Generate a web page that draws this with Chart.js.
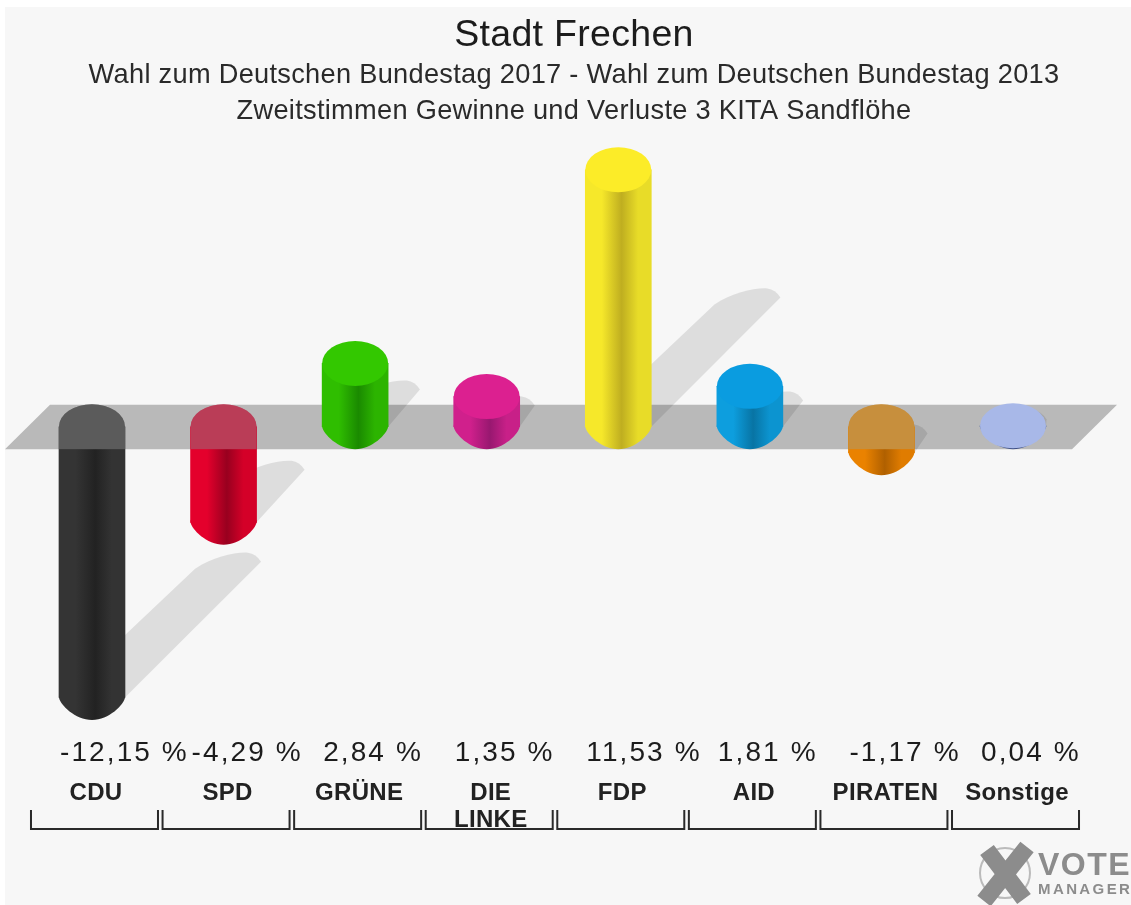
<!DOCTYPE html>
<html>
<head>
<meta charset="utf-8">
<title>Stadt Frechen</title>
<script src="https://cdn.jsdelivr.net/npm/chart.js@4"></script>
<style>
  html, body { margin: 0; padding: 0; background: #fff; overflow: hidden; }
  #wrap { width: 1131px; height: 905px; }
</style>
</head>
<body>
<div id="wrap"><canvas id="chart"></canvas></div>
<script>
const parties = ["CDU", "SPD", "GRÜNE", ["DIE", "LINKE"], "FDP", "AID", "PIRATEN", "Sonstige"];
const changes = [-12.15, -4.29, 2.84, 1.35, 11.53, 1.81, -1.17, 0.04];

const titleText = "Stadt Frechen";
const subtitleLines = [
  "Wahl zum Deutschen Bundestag 2017 - Wahl zum Deutschen Bundestag 2013",
  "Zweitstimmen Gewinne und Verluste 3 KITA Sandflöhe",
];

// left edge, dark middle, right edge, top of the cylinder
const barColors = [
  ["#343434", "#222222", "#333333", "#303030"],
  ["#e4002c", "#98001f", "#d40028", "#c4002a"],
  ["#2fbe00", "#1a8a00", "#2cb400", "#33c800"],
  ["#d0208c", "#981870", "#c82088", "#dc2090"],
  ["#f6e82a", "#bfae20", "#e8dc28", "#fcec28"],
  ["#0d9ede", "#0874a4", "#0c94d0", "#0a9ce0"],
  ["#ea8200", "#b06000", "#e07c00", "#d88000"],
  ["#56689c", "#3a4a80", "#56689c", "#a8b8e8"],
];

const FONT = '"Liberation Sans", Arial, sans-serif';
const RX = 33;
const RY = 22.5;

const bodyGradient = (chart, i) => {
  const cx = chart.scales.x.getPixelForValue(i);
  const [a, b, c] = barColors[i];
  if (!Number.isFinite(cx)) return a; // scale has no size yet on the first pass
  const g = chart.ctx.createLinearGradient(cx - RX, 0, cx + RX, 0);
  g.addColorStop(0, a);
  g.addColorStop(0.25, a);
  g.addColorStop(0.55, b);
  g.addColorStop(0.8, c);
  g.addColorStop(1, c);
  return g;
};

// background, grey floor band and the slanted shadows
const floorPlugin = {
  id: "floor",
  beforeDraw(chart) {
    const { ctx, width, height } = chart;
    ctx.save();
    ctx.fillStyle = "#ffffff";
    ctx.fillRect(0, 0, width, height);
    ctx.fillStyle = "#f7f7f7";
    ctx.fillRect(5, 7, width - 5, height - 7);
    ctx.restore();
    ctx.letterSpacing = "0.3px"; // title and subtitle
  },
  beforeDatasetsDraw(chart) {
    const { ctx, scales } = chart;
    const y0 = scales.y.getPixelForValue(0);
    const first = scales.x.getPixelForValue(0);
    const last = scales.x.getPixelForValue(changes.length - 1);

    ctx.save();
    ctx.fillStyle = "#b9b9b9";
    ctx.beginPath();
    ctx.moveTo(first - 42, y0 - 22);
    ctx.lineTo(last + 104, y0 - 22);
    ctx.lineTo(last + 59, y0 + 22.5);
    ctx.lineTo(first - 87, y0 + 22.5);
    ctx.closePath();
    ctx.fill();

    changes.forEach((v, i) => {
      const cx = scales.x.getPixelForValue(i);
      const by = scales.y.getPixelForValue(Math.min(v, 0));
      const tx = cx + Math.abs(v) * 11.2;
      const ty = by - Math.abs(v) * 10.6;
      ctx.beginPath();
      ctx.moveTo(cx - RX, by);
      ctx.lineTo(tx - RX, ty);
      ctx.bezierCurveTo(tx - 15, ty - 12, tx + 8, ty - 17, tx + 20, ty - 16);
      ctx.quadraticCurveTo(tx + 28, ty - 15, tx + RX, ty - 7);
      ctx.lineTo(cx + RX, by);
      ctx.closePath();
      ctx.fillStyle = "rgba(0, 0, 0, 0.1)";
      ctx.fill();
    });
    ctx.restore();
  },
  afterDatasetsDraw(chart) {
    const { ctx, scales } = chart;
    const y0 = scales.y.getPixelForValue(0);

    ctx.save();
    changes.forEach((v, i) => {
      const cx = scales.x.getPixelForValue(i);
      const yv = scales.y.getPixelForValue(v);
      const low = Math.max(yv, y0);
      const high = Math.min(yv, y0);

      // tapered lower end, starts a bit inside the bar so no seam shows
      ctx.beginPath();
      ctx.moveTo(cx - RX, low - 2);
      ctx.lineTo(cx - RX, low);
      ctx.bezierCurveTo(cx - RX + 1, low + 7, cx - 17, low + RY, cx, low + RY);
      ctx.bezierCurveTo(cx + 17, low + RY, cx + RX - 1, low + 7, cx + RX, low);
      ctx.lineTo(cx + RX, low - 2);
      ctx.closePath();
      ctx.fillStyle = bodyGradient(chart, i);
      ctx.fill();

      if (v < 0) {
        // the band lies over the bars that go below zero
        ctx.save();
        ctx.beginPath();
        ctx.rect(cx - RX - 1, y0 - 23, RX * 2 + 2, 45.5);
        ctx.clip();
        ctx.beginPath();
        ctx.ellipse(cx, y0, RX, RY, 0, Math.PI, Math.PI * 2);
        ctx.lineTo(cx + RX, y0 + 23);
        ctx.lineTo(cx - RX, y0 + 23);
        ctx.closePath();
        ctx.fillStyle = barColors[i][3];
        ctx.fill();
        ctx.fillStyle = "rgba(168, 168, 168, 0.36)";
        ctx.fill();
        ctx.restore();
      } else {
        ctx.beginPath();
        ctx.ellipse(cx, high, RX, RY, 0, 0, Math.PI * 2);
        ctx.fillStyle = barColors[i][3];
        ctx.fill();
      }
    });
    ctx.restore();
    ctx.letterSpacing = "2px"; // party names, the x axis draws after this
  },
  afterDraw(chart) {
    const { ctx, scales } = chart;

    ctx.save();
    // value labels
    ctx.font = "28px " + FONT;
    ctx.letterSpacing = "2.1px";
    ctx.fillStyle = "#1c1c1c";
    ctx.textAlign = "left";
    ctx.textBaseline = "alphabetic";
    changes.forEach((v, i) => {
      const label = v.toFixed(2).replace(".", ",") + " %";
      ctx.fillText(label, scales.x.getPixelForValue(i) - 32, 761);
    });

    // brackets under the party names
    ctx.strokeStyle = "#2a2a2a";
    ctx.lineWidth = 2;
    changes.forEach((v, i) => {
      const cx = scales.x.getPixelForValue(i);
      ctx.beginPath();
      ctx.moveTo(cx - 61, 810);
      ctx.lineTo(cx - 61, 829);
      ctx.lineTo(cx + 66, 829);
      ctx.lineTo(cx + 66, 810);
      ctx.stroke();
    });

    // VoteManager logo
    ctx.strokeStyle = "#bbbbbb";
    ctx.lineWidth = 2;
    ctx.beginPath();
    ctx.arc(1005, 873, 25, 0, Math.PI * 2);
    ctx.stroke();
    ctx.strokeStyle = "#8c8c8c";
    ctx.lineWidth = 17;
    ctx.beginPath();
    ctx.moveTo(987, 850);
    ctx.lineTo(1024, 899);
    ctx.moveTo(1027, 847);
    ctx.lineTo(984, 901);
    ctx.stroke();
    ctx.fillStyle = "#8c8c8c";
    ctx.font = "bold 32px " + FONT;
    ctx.letterSpacing = "1.5px";
    ctx.fillText("VOTE", 1038, 875);
    ctx.font = "bold 15px " + FONT;
    ctx.letterSpacing = "2.4px";
    ctx.fillText("MANAGER", 1038, 894);
    ctx.restore();
  },
};

new Chart(document.getElementById("chart"), {
  type: "bar",
  data: {
    labels: parties,
    datasets: [
      {
        data: changes,
        barThickness: RX * 2,
        borderWidth: 0,
        backgroundColor: (c) =>
          c.dataIndex === undefined ? barColors[0][0] : bodyGradient(c.chart, c.dataIndex),
      },
    ],
  },
  plugins: [floorPlugin],
  options: {
    responsive: true,
    maintainAspectRatio: false,
    animation: false,
    layout: { padding: { left: 17 } },
    plugins: {
      legend: { display: false },
      tooltip: { enabled: false },
      title: {
        display: true,
        text: titleText,
        color: "#1c1c1c",
        font: { family: FONT, size: 37.5, weight: "normal", lineHeight: 44 / 37.5 },
        padding: { top: 14, bottom: 0 },
      },
      subtitle: {
        display: true,
        text: subtitleLines,
        color: "#2a2a2a",
        font: { family: FONT, size: 27.2, weight: "normal", lineHeight: 36 / 27.2 },
        padding: { top: 0, bottom: 7 },
      },
    },
    scales: {
      x: {
        z: 1,
        grid: { display: false },
        border: { display: false },
        afterFit(axis) {
          axis.height = 166.3;
        },
        ticks: {
          autoSkip: false,
          maxRotation: 0,
          minRotation: 0,
          padding: 33,
          labelOffset: 4,
          color: "#222222",
          font: { family: FONT, size: 24, weight: "bold", lineHeight: 27 / 24 },
        },
      },
      y: {
        min: -14,
        max: 13,
        grid: { display: false },
        border: { display: false },
        ticks: { display: false },
        afterFit(axis) {
          axis.width = 9.2;
        },
      },
      y2: {
        position: "right",
        grid: { display: false },
        border: { display: false },
        ticks: { display: false },
        afterFit(axis) {
          axis.width = 52.2;
        },
      },
    },
  },
});
</script>
</body>
</html>
